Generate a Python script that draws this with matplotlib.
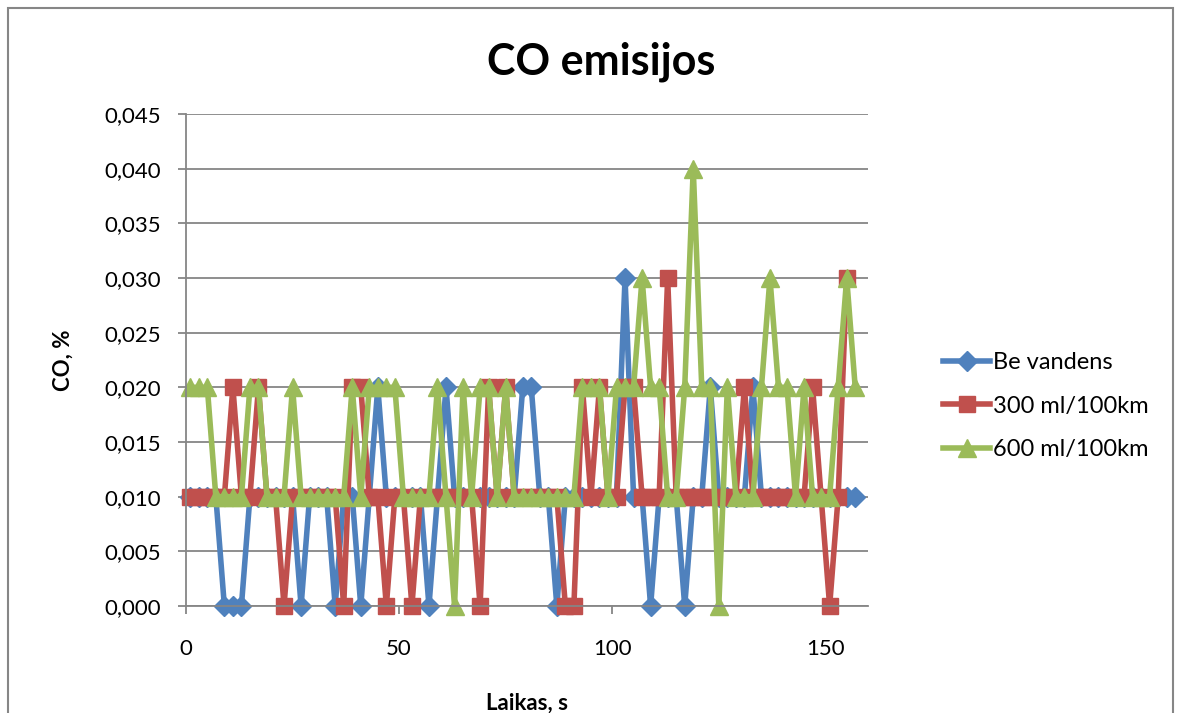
import matplotlib
matplotlib.use("Agg")
import matplotlib.pyplot as plt
from matplotlib.ticker import FuncFormatter
from matplotlib.patches import Rectangle

# laikas, s
t_main = [1, 3, 5, 7, 9, 11, 13, 15, 17, 19,
          21, 23, 25, 27, 29, 31, 33, 35, 37, 39,
          41, 43, 45, 47, 49, 51, 53, 55, 57, 59,
          61, 63, 65, 67, 69, 71, 73, 75, 77, 79,
          81, 83, 85, 87, 89, 91, 93, 95, 97, 99,
          101, 103, 105, 107, 109, 111, 113, 115, 117, 119,
          121, 123, 125, 127, 129, 131, 133, 135, 137, 139,
          141, 143, 145, 147, 149, 151, 153, 155, 157]
t_300 = t_main[:-1]

be_vandens = [0.010, 0.010, 0.010, 0.010, 0.000, 0.000, 0.000, 0.010, 0.010, 0.010,
              0.010, 0.010, 0.010, 0.000, 0.010, 0.010, 0.010, 0.000, 0.010, 0.010,
              0.000, 0.010, 0.020, 0.010, 0.010, 0.010, 0.010, 0.010, 0.000, 0.010,
              0.020, 0.010, 0.010, 0.010, 0.010, 0.010, 0.010, 0.010, 0.010, 0.020,
              0.020, 0.010, 0.010, 0.000, 0.010, 0.010, 0.010, 0.010, 0.010, 0.010,
              0.010, 0.030, 0.010, 0.010, 0.000, 0.010, 0.010, 0.010, 0.000, 0.010,
              0.010, 0.020, 0.010, 0.010, 0.010, 0.010, 0.020, 0.010, 0.010, 0.010,
              0.010, 0.010, 0.010, 0.010, 0.010, 0.010, 0.010, 0.010, 0.010]

ml300 = [0.010, 0.010, 0.010, 0.010, 0.010, 0.020, 0.010, 0.010, 0.020, 0.010,
         0.010, 0.000, 0.010, 0.010, 0.010, 0.010, 0.010, 0.010, 0.000, 0.020,
         0.020, 0.010, 0.010, 0.000, 0.010, 0.010, 0.000, 0.010, 0.010, 0.010,
         0.010, 0.010, 0.010, 0.010, 0.000, 0.020, 0.010, 0.020, 0.010, 0.010,
         0.010, 0.010, 0.010, 0.010, 0.000, 0.000, 0.020, 0.010, 0.020, 0.010,
         0.010, 0.020, 0.020, 0.010, 0.010, 0.010, 0.030, 0.010, 0.010, 0.010,
         0.010, 0.010, 0.010, 0.010, 0.010, 0.020, 0.010, 0.010, 0.010, 0.010,
         0.010, 0.010, 0.010, 0.020, 0.010, 0.000, 0.010, 0.030]

ml600 = [0.020, 0.020, 0.020, 0.010, 0.010, 0.010, 0.010, 0.020, 0.020, 0.010,
         0.010, 0.010, 0.020, 0.010, 0.010, 0.010, 0.010, 0.010, 0.010, 0.020,
         0.010, 0.020, 0.020, 0.020, 0.020, 0.010, 0.010, 0.010, 0.010, 0.020,
         0.010, 0.000, 0.020, 0.010, 0.020, 0.020, 0.010, 0.020, 0.010, 0.010,
         0.010, 0.010, 0.010, 0.010, 0.010, 0.010, 0.020, 0.020, 0.020, 0.010,
         0.020, 0.020, 0.020, 0.030, 0.020, 0.020, 0.010, 0.010, 0.020, 0.040,
         0.020, 0.020, 0.000, 0.020, 0.010, 0.010, 0.010, 0.020, 0.030, 0.020,
         0.020, 0.010, 0.020, 0.010, 0.010, 0.010, 0.020, 0.030, 0.020]

labels = ["Be vandens", "300 ml/100km", "600 ml/100km"]
colors = ["#4F81BD", "#C0504D", "#9BBB59"]

plt.rcParams['font.family'] = ['Lato', 'DejaVu Sans']

fig = plt.figure(figsize=(11.8, 7.13), dpi=100)
ax = fig.add_axes([186 / 1180, 107 / 713, 682 / 1180, 492 / 713])

ax.plot(t_main, be_vandens, color=colors[0], lw=4, marker='D', ms=10, label=labels[0], clip_on=False)
ax.plot(t_300, ml300, color=colors[1], lw=4, marker='s', ms=12, label=labels[1], clip_on=False)
ax.plot(t_main, ml600, color=colors[2], lw=4, marker='^', ms=13, label=labels[2], clip_on=False)

ax.set_xlim(0, 160)
ax.set_ylim(0, 0.045)
ax.set_xticks([0, 50, 100, 150])
ax.set_yticks([i * 0.005 for i in range(10)])
ax.yaxis.set_major_formatter(FuncFormatter(lambda v, p: f"{v:.3f}".replace('.', ',')))
ax.grid(axis='y', color='#868686', lw=1.3)
ax.set_axisbelow(True)
for s in ['top', 'right']:
    ax.spines[s].set_visible(False)
for s in ['left', 'bottom']:
    ax.spines[s].set_color('#868686')
    ax.spines[s].set_linewidth(1.3)
ax.tick_params(axis='both', colors='#868686', labelcolor='black', labelsize=16, length=6, width=1.3)
ax.tick_params(axis='x', pad=18)
ax.tick_params(axis='y', pad=12)

ax.set_xlabel("Laikas, s", fontsize=16, fontweight='bold', labelpad=24)
ax.set_ylabel("CO, %", fontsize=16, fontweight='bold', labelpad=22)
fig.text(601 / 1180, 1 - 62 / 713, "CO emisijos", fontsize=31, fontweight='bold',
         ha='center', va='center')

ax.legend(loc='center left', bbox_to_anchor=(943 / 1180, 1 - 406 / 713),
          bbox_transform=fig.transFigure, frameon=False, fontsize=17,
          handlelength=2.0, handletextpad=0.12, labelspacing=0.95, borderpad=0,
          borderaxespad=0, numpoints=1)

fig.patches.append(Rectangle((8 / 1180, -0.05), 1165 / 1180, 1.05 - 8 / 713,
                             transform=fig.transFigure, fill=False,
                             edgecolor='#868686', lw=1.5))

fig.savefig("out.png", dpi=100)
